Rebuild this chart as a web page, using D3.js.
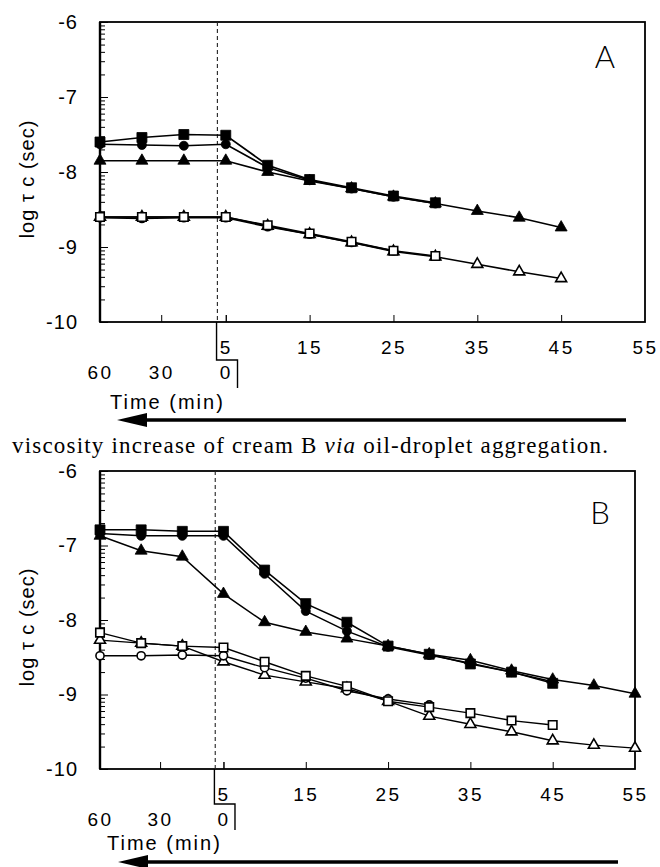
<!DOCTYPE html>
<html>
<head>
<meta charset="utf-8">
<script src="https://cdn.jsdelivr.net/npm/d3@7"></script>
<style>
  body { margin: 0; background: #fff; }
  svg text { font-family: "Liberation Sans", Arial, sans-serif; fill: #000; }
  .tick line { stroke: #000; }
</style>
</head>
<body>
<div id="container"></div>
<script>
/* DATA */
// x position on the shared time axis (first 3 points are the pre-mixing readings)
const timePos = [-10, -5, 0, 5, 10, 15, 20, 25, 30, 35, 40, 45, 50, 55];
const topTicks = [5, 15, 25, 35, 45, 55];
const preTickPos = [-10, -2.7, 5];
const preTickLabels = ["60", "30", "0"];
const yMajor = [-10, -9, -8, -7, -6];

// panel A, log tau c
const aFillSquare   = [-7.60, -7.54, -7.50, -7.51, -7.91, -8.10, -8.21, -8.32, -8.41];
const aFillCircle   = [-7.63, -7.64, -7.65, -7.63, -7.94, -8.11, -8.22, -8.33, -8.42];
const aFillTriangle = [-7.85, -7.85, -7.85, -7.85, -8.00, -8.12, -8.22, -8.33, -8.42, -8.52, -8.61, -8.74];
const aOpenSquare   = [-8.60, -8.60, -8.60, -8.60, -8.71, -8.82, -8.93, -9.05, -9.12];
const aOpenCircle   = [-8.61, -8.62, -8.61, -8.61, -8.73, -8.83, -8.94, -9.05];
const aOpenTriangle = [-8.60, -8.60, -8.60, -8.60, -8.72, -8.83, -8.94, -9.06, -9.13, -9.23, -9.33, -9.42];

// panel B, log tau c
const bFillSquare   = [-6.79, -6.79, -6.81, -6.81, -7.33, -7.78, -8.03, -8.35, -8.46, -8.59, -8.70, -8.85];
const bFillCircle   = [-6.84, -6.87, -6.87, -6.87, -7.38, -7.88, -8.15, -8.36, -8.47, -8.58, -8.70, -8.83];
const bFillTriangle = [-6.87, -7.07, -7.15, -7.65, -8.03, -8.16, -8.25, -8.35, -8.46, -8.54, -8.68, -8.80, -8.88, -8.99];
const bOpenSquare   = [-8.17, -8.31, -8.35, -8.37, -8.56, -8.75, -8.89, -9.09, -9.17, -9.25, -9.35, -9.41];
const bOpenCircle   = [-8.48, -8.48, -8.47, -8.48, -8.64, -8.78, -8.95, -9.06, -9.14];
const bOpenTriangle = [-8.27, -8.31, -8.35, -8.56, -8.74, -8.83, -8.92, -9.09, -9.29, -9.40, -9.50, -9.62, -9.68, -9.72];

const caption = "viscosity increase of cream B ";
const captionItalic = "via";
const captionEnd = " oil-droplet aggregation.";

/* CONSTANTS */
const width = 660, height = 867;

const svg = d3.select("#container").append("svg")
  .attr("width", width)
  .attr("height", height);

// minor log ticks inside each decade
const yMinor = [];
for (let k = -10; k < -6; k++) {
  for (let m = 2; m <= 9; m++) yMinor.push(k + Math.log10(m));
}

function drawPanel(p) {
  const x = d3.scaleLinear().domain([-10, 55]).range([p.left, p.right]);
  const y = d3.scaleLinear().domain([-10, -6]).range([p.bottom, p.top]);
  const g = svg.append("g");

  // frame
  g.append("rect")
    .attr("x", p.left).attr("y", p.top)
    .attr("width", p.right - p.left).attr("height", p.bottom - p.top)
    .attr("fill", "none").attr("stroke", "#000").attr("stroke-width", 1.8);
  g.append("line")
    .attr("x1", p.left).attr("x2", p.left).attr("y1", p.top).attr("y2", p.bottom)
    .attr("stroke", "#000").attr("stroke-width", 2.4);

  // y axis
  g.append("g").attr("transform", `translate(${p.left},0)`)
    .call(d3.axisLeft(y).tickValues(yMinor).tickSizeInner(-5).tickSizeOuter(0).tickFormat(""));
  const yAxis = g.append("g").attr("transform", `translate(${p.left},0)`)
    .call(d3.axisLeft(y).tickValues(yMajor).tickSizeInner(-8).tickSizeOuter(0).tickPadding(22).tickFormat(d3.format("d")));
  g.selectAll(".domain").remove();
  yAxis.selectAll("text").attr("font-size", 20).style("letter-spacing", "1px")
    .text(d => "-" + Math.abs(d));

  // x axes: post-mixing minutes and pre-mixing minutes
  const xTop = g.append("g").attr("transform", `translate(0,${p.bottom})`)
    .call(d3.axisBottom(x).tickValues(topTicks).tickSizeInner(-7).tickSizeOuter(0).tickPadding(19));
  xTop.select(".domain").remove();
  xTop.selectAll("text").attr("font-size", 19).style("letter-spacing", "2.5px");
  xTop.selectAll(".tick").filter(d => d === 55).select("line").remove();

  const xPre = g.append("g").attr("transform", `translate(0,${p.bottom})`)
    .call(d3.axisBottom(x).tickValues(preTickPos).tickSizeInner(-7).tickSizeOuter(0).tickPadding(44)
      .tickFormat((d, i) => preTickLabels[i]));
  xPre.select(".domain").remove();
  xPre.selectAll("text").attr("font-size", 19).style("letter-spacing", "2.5px");
  xPre.selectAll(".tick").filter(d => d === -10).select("line").remove();

  // dashed mixing line
  g.append("line")
    .attr("x1", x(4)).attr("x2", x(4)).attr("y1", p.top).attr("y2", p.bottom)
    .attr("stroke", "#222").attr("stroke-width", 1.1).attr("stroke-dasharray", "4,3");

  // bracket linking the two time rows
  g.append("path")
    .attr("d", `M${x(3.9)},${p.bottom}V${p.bottom + p.bracketMid}H${x(6.4)}V${p.bottom + p.bracketEnd}`)
    .attr("fill", "none").attr("stroke", "#000").attr("stroke-width", 1.4);

  // y title
  g.append("text")
    .attr("transform", `translate(${p.titleX},${(p.top + p.bottom) / 2 + 7}) rotate(-90)`)
    .attr("text-anchor", "middle").attr("font-size", 20).style("letter-spacing", "1px")
    .text("log τ c (sec)");

  // x title
  g.append("text")
    .attr("x", p.timeX).attr("y", p.bottom + p.timeDy)
    .attr("font-size", 20).style("letter-spacing", "2px")
    .text("Time (min)");

  // panel letter
  g.append("text")
    .attr("x", p.letterX).attr("y", p.letterY)
    .attr("text-anchor", "middle")
    .style("font-family", "Lato, 'Open Sans', sans-serif").style("font-weight", 300)
    .attr("font-size", 31)
    .text(p.letter);

  // series
  const line = d3.line().x((d, i) => x(timePos[i])).y(d => y(d));
  const symType = { square: d3.symbolSquare, circle: d3.symbolCircle, triangle: d3.symbolTriangle };
  const symSize = (s) => s.shape === "square" ? (s.filled ? 100 : 72)
    : s.shape === "circle" ? (s.filled ? 64 : 52)
    : (s.filled ? 62 : 52);

  p.series.forEach(s => {
    g.append("path")
      .attr("d", line(s.values))
      .attr("fill", "none").attr("stroke", "#000").attr("stroke-width", s.lw);
  });
  p.series.forEach(s => {
    g.selectAll(null).data(s.values).join("path")
      .attr("transform", (d, i) => `translate(${x(timePos[i])},${y(d)})`)
      .attr("d", d3.symbol(symType[s.shape], symSize(s)))
      .attr("fill", s.filled ? "#000" : "#fff")
      .attr("stroke", "#000").attr("stroke-width", s.filled ? 0.8 : 1.6);
  });

  // arrow pointing back in time
  const ay = p.bottom + p.arrowDy;
  g.append("line")
    .attr("x1", p.arrowLeft + 20).attr("x2", p.arrowRight).attr("y1", ay).attr("y2", ay)
    .attr("stroke", "#000").attr("stroke-width", 3.4);
  g.append("path")
    .attr("d", `M${p.arrowLeft},${ay}L${p.arrowLeft + 30},${ay - 7}L${p.arrowLeft + 30},${ay + 7}Z`)
    .attr("fill", "#000");
}

const seriesA = [
  { values: aOpenTriangle, shape: "triangle", filled: false, lw: 1.6 },
  { values: aOpenCircle, shape: "circle", filled: false, lw: 1.6 },
  { values: aOpenSquare, shape: "square", filled: false, lw: 1.6 },
  { values: aFillTriangle, shape: "triangle", filled: true, lw: 1.7 },
  { values: aFillCircle, shape: "circle", filled: true, lw: 1.7 },
  { values: aFillSquare, shape: "square", filled: true, lw: 1.7 }
];
const seriesB = [
  { values: bOpenTriangle, shape: "triangle", filled: false, lw: 1.4 },
  { values: bOpenCircle, shape: "circle", filled: false, lw: 1.4 },
  { values: bOpenSquare, shape: "square", filled: false, lw: 1.4 },
  { values: bFillTriangle, shape: "triangle", filled: true, lw: 1.5 },
  { values: bFillCircle, shape: "circle", filled: true, lw: 1.5 },
  { values: bFillSquare, shape: "square", filled: true, lw: 1.5 }
];

drawPanel({
  left: 100, right: 645, top: 22, bottom: 322,
  bracketMid: 38, bracketEnd: 66,
  titleX: 34, timeX: 110, timeDy: 87,
  letter: "A", letterX: 605, letterY: 68,
  arrowLeft: 117, arrowRight: 626, arrowDy: 98,
  series: seriesA
});

drawPanel({
  left: 100, right: 635, top: 471, bottom: 769,
  bracketMid: 35, bracketEnd: 61,
  titleX: 34, timeX: 107, timeDy: 81,
  letter: "B", letterX: 600, letterY: 524,
  arrowLeft: 118, arrowRight: 618, arrowDy: 93,
  series: seriesB
});

// caption line between the panels
const cap = svg.append("text")
  .attr("x", 12).attr("y", 453)
  .style("font-family", "'Liberation Serif', 'Times New Roman', serif")
  .attr("font-size", 23)
  .attr("textLength", 596).attr("lengthAdjust", "spacing");
cap.append("tspan").text(caption);
cap.append("tspan").style("font-style", "italic").text(captionItalic);
cap.append("tspan").text(captionEnd);
</script>
</body>
</html>
